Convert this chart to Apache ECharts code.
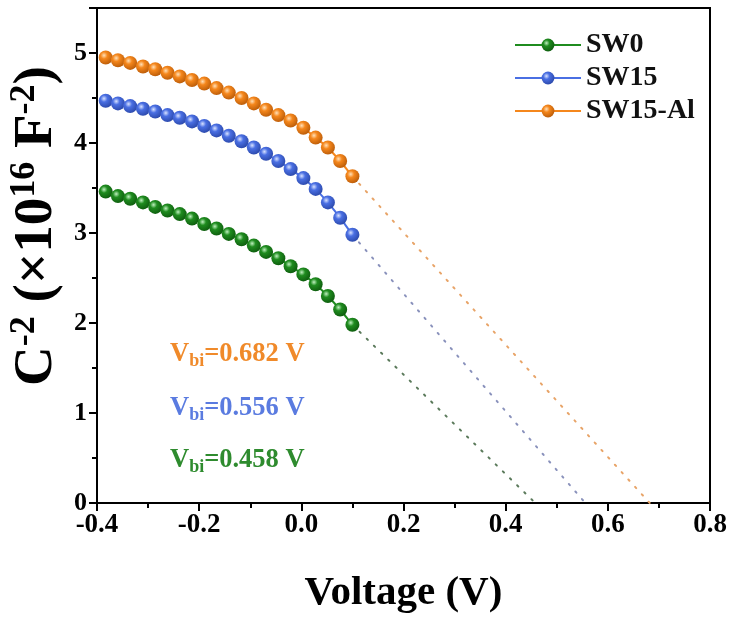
<!DOCTYPE html>
<html>
<head>
<meta charset="utf-8">
<script src="https://cdn.jsdelivr.net/npm/echarts@6/dist/echarts.min.js"></script>
<style>
  html, body { margin: 0; padding: 0; background: #fff; }
  #chart { width: 734px; height: 619px; }
</style>
</head>
<body>
<div id="chart"></div>
<script>
// Mott-Schottky data: applied voltage (V) and C^-2 (x10^16 F^-2)
const voltage = [-0.383, -0.359, -0.335, -0.310, -0.286, -0.262, -0.238, -0.214, -0.190, -0.166,
                 -0.142, -0.117, -0.093, -0.069, -0.045, -0.021, 0.004, 0.028, 0.052, 0.076, 0.100];
const sw0    = [3.46, 3.41, 3.38, 3.34, 3.29, 3.25, 3.21, 3.16, 3.10, 3.05,
                2.99, 2.93, 2.86, 2.79, 2.72, 2.63, 2.54, 2.43, 2.30, 2.15, 1.98];
const sw15   = [4.47, 4.44, 4.41, 4.38, 4.35, 4.31, 4.28, 4.24, 4.19, 4.14,
                4.08, 4.02, 3.95, 3.88, 3.80, 3.71, 3.61, 3.49, 3.34, 3.17, 2.98];
const sw15al = [4.95, 4.92, 4.89, 4.85, 4.82, 4.78, 4.74, 4.70, 4.66, 4.61,
                4.56, 4.50, 4.44, 4.37, 4.31, 4.25, 4.17, 4.06, 3.95, 3.80, 3.63];

const seriesNames = ['SW0', 'SW15', 'SW15-Al'];
// built-in potential from the linear extrapolation to C^-2 = 0
const vbi = [0.458, 0.556, 0.682];

const xTicks = [-0.4, -0.2, 0.0, 0.2, 0.4, 0.6, 0.8];
const yTicks = [0, 1, 2, 3, 4, 5];

const FONT = "'Liberation Serif', 'Times New Roman', serif";
const baseColors = ['#1f8c1f', '#4a6fe3', '#f5871c'];
const lightColors = ['#bff0bf', '#d8e2ff', '#ffe0b8'];
const darkColors = ['#0d5a0d', '#2a47a8', '#b85a08'];
const dotColors = ['#5b7a5b', '#8a92bc', '#e8a468'];
const textColors = ['#2e8b2e', '#5a7be0', '#f08a2a'];

function sphere(i) {
  return new echarts.graphic.RadialGradient(0.38, 0.35, 0.7, [
    { offset: 0, color: lightColors[i] },
    { offset: 0.35, color: baseColors[i] },
    { offset: 1, color: darkColors[i] }
  ]);
}

const curves = [sw0, sw15, sw15al];
const series = [];
curves.forEach((vals, i) => {
  series.push({
    name: seriesNames[i],
    type: 'line',
    data: voltage.map((v, k) => [v, vals[k]]),
    symbol: 'circle',
    symbolSize: 14,
    lineStyle: { color: baseColors[i], width: 2 },
    itemStyle: { color: sphere(i), borderWidth: 0 },
    z: 3
  });
});
// dotted extrapolation from the last measured point down to V_bi
curves.forEach((vals, i) => {
  series.push({
    name: seriesNames[i] + ' fit',
    type: 'line',
    data: [[voltage[voltage.length - 1], vals[vals.length - 1]], [vbi[i], 0]],
    symbol: 'none',
    silent: true,
    lineStyle: { color: dotColors[i], width: 2, type: [1.6, 8.4], cap: 'round' },
    z: 2
  });
});

const chart = echarts.init(document.getElementById('chart'));

const subStyle = (c) => ({ fontFamily: FONT, fontWeight: 'bold', fontSize: 18, fill: c, color: c, padding: [13, 0, 0, 0], verticalAlign: 'middle' });
const mainStyle = (c) => ({ fontFamily: FONT, fontWeight: 'bold', fontSize: 26.5, fill: c, color: c, verticalAlign: 'middle' });
const annY = [460, 408, 354];
const annotations = [2, 1, 0].map((i) => ({
  type: 'text',
  left: 170,
  top: annY[i] - 13,
  style: {
    text: '{m|V}{s|bi}{m|=' + vbi[i].toFixed(3) + ' V}',
    fill: textColors[i],
    rich: { m: mainStyle(textColors[i]), s: subStyle(textColors[i]) }
  }
}));

const supT = { fontFamily: FONT, fontWeight: 'bold', fontSize: 36, fill: '#000', padding: [0, 0, 24, 0], verticalAlign: 'middle' };
const mainT = { fontFamily: FONT, fontWeight: 'bold', fontSize: 55, fill: '#000', verticalAlign: 'middle' };

chart.setOption({
  animation: false,
  backgroundColor: '#fff',
  grid: { left: 97, right: 24, top: 8, bottom: 109, show: true, borderColor: '#000', borderWidth: 2 },
  legend: {
    data: seriesNames,
    orient: 'vertical',
    left: 509,
    top: 26,
    itemWidth: 66,
    itemHeight: 16,
    itemGap: 5,
    textStyle: { fontFamily: FONT, fontWeight: 'bold', fontSize: 28, color: '#111' }
  },
  xAxis: {
    type: 'value',
    min: xTicks[0],
    max: xTicks[xTicks.length - 1],
    interval: 0.2,
    axisLine: { show: true, onZero: false, lineStyle: { color: '#000', width: 2 } },
    axisTick: { show: true, length: 8, lineStyle: { color: '#000', width: 2 } },
    minorTick: { show: true, splitNumber: 2, length: 5, lineStyle: { color: '#000', width: 2 } },
    splitLine: { show: false },
    axisLabel: {
      fontFamily: FONT, fontWeight: 'bold', fontSize: 27, color: '#000', margin: 9,
      formatter: (v) => v.toFixed(1)
    },
    name: 'Voltage (V)',
    nameLocation: 'middle',
    nameGap: 70,
    nameTextStyle: { fontFamily: FONT, fontWeight: 'bold', fontSize: 41, color: '#000' }
  },
  yAxis: {
    type: 'value',
    min: 0,
    max: 5.5,
    interval: 1,
    axisLine: { show: true, onZero: false, lineStyle: { color: '#000', width: 2 } },
    axisTick: { show: true, length: 8, lineStyle: { color: '#000', width: 2 } },
    minorTick: { show: true, splitNumber: 2, length: 5, lineStyle: { color: '#000', width: 2 } },
    splitLine: { show: false },
    axisLabel: {
      fontFamily: FONT, fontWeight: 'bold', fontSize: 26, color: '#000', margin: 10,
      showMaxLabel: false,
      formatter: (v) => (yTicks.indexOf(v) >= 0 ? String(v) : '')
    }
  },
  graphic: annotations.concat([{
    type: 'text',
    x: 37,
    y: 226,
    rotation: Math.PI / 2,
    style: {
      text: '{m|C}{s|-2}{m| (×10}{s|16}{m| F}{s|-2}{m|)}',
      align: 'center',
      verticalAlign: 'middle',
      rich: { m: mainT, s: supT }
    }
  }]),
  series: series
});
</script>
</body>
</html>
